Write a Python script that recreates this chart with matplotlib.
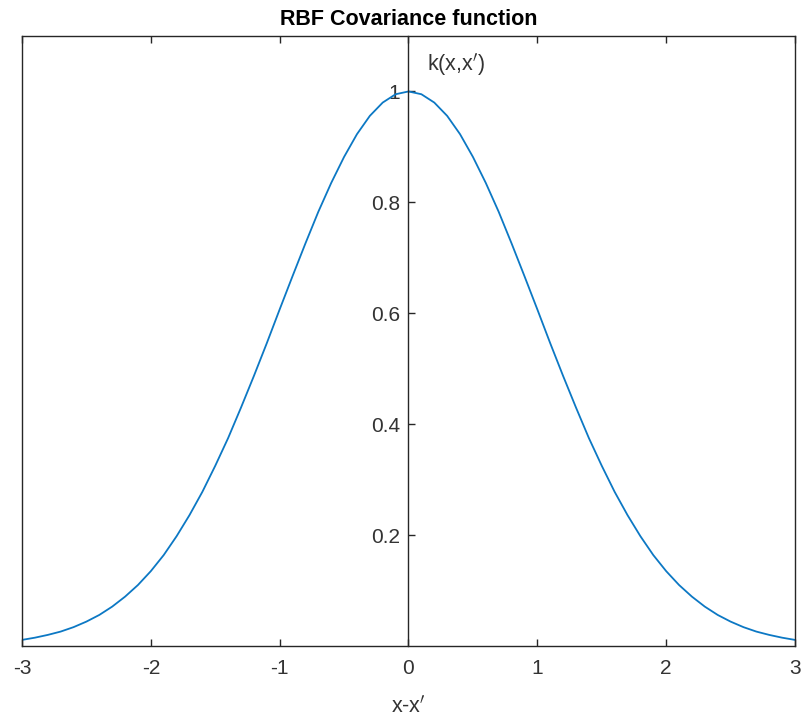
import matplotlib
matplotlib.use("Agg")
import matplotlib.pyplot as plt
import numpy as np

plt.rcParams["font.family"] = ["Liberation Sans", "DejaVu Sans"]

# ── Data ─────────────────────────────────────────────────────────────────── #
x_vals = np.linspace(-3, 3, 61)
k_vals = [
    0.011, 0.015, 0.020, 0.026, 0.034, 0.044, 0.056, 0.071, 0.089, 0.110,
    0.135, 0.164, 0.198, 0.236, 0.278, 0.325, 0.375, 0.430, 0.487, 0.546,
    0.607, 0.667, 0.726, 0.783, 0.835, 0.882, 0.923, 0.956, 0.980, 0.995,
    1.000,
    0.995, 0.980, 0.956, 0.923, 0.882, 0.835, 0.783, 0.726, 0.667, 0.607,
    0.546, 0.487, 0.430, 0.375, 0.325, 0.278, 0.236, 0.198, 0.164, 0.135,
    0.110, 0.089, 0.071, 0.056, 0.044, 0.034, 0.026, 0.020, 0.015, 0.011,
]
x_ticks = [-3, -2, -1, 0, 1, 2, 3]
y_ticks = [0.2, 0.4, 0.6, 0.8, 1.0]
y_tick_labels = ["0.2", "0.4", "0.6", "0.8", "1"]

AXIS_COL = "#262626"
TEXT_COL = "#333333"
LINE_COL = "#0C78C4"

fig = plt.figure(figsize=(8.04, 7.25), dpi=100)
ax = fig.add_axes([22 / 804, 79 / 725, 773 / 804, 610 / 725])

ax.plot(x_vals, k_vals, color=LINE_COL, linewidth=1.3)

ax.set_xlim(-3, 3)
ax.set_ylim(0, 1.1)

# y axis through the origin, box kept on all sides
ax.spines["left"].set_position(("data", 0))
for s in ax.spines.values():
    s.set_color(AXIS_COL)
    s.set_linewidth(1.0)
ax.axvline(-3, color=AXIS_COL, linewidth=1.0, clip_on=False)

ax.set_xticks(x_ticks)
ax.set_xticklabels([str(t) for t in x_ticks])
ax.set_yticks(y_ticks)
ax.set_yticklabels(y_tick_labels)
ax.tick_params(axis="x", direction="in", top=True, length=5, width=1.0,
               color=AXIS_COL, labelcolor=TEXT_COL, labelsize=15, pad=9)
ax.tick_params(axis="y", direction="in", right=False, length=5, width=1.0,
               color=AXIS_COL, labelcolor=TEXT_COL, labelsize=15, pad=6)

ax.set_xlabel("x-x$^{\\prime}$", fontsize=15.5, color=TEXT_COL, labelpad=14)
ax.text(0.14, 1.048, "k(x,x$^{\\prime}$)", fontsize=15.5, color=TEXT_COL,
        ha="left", va="center")
ax.set_title("RBF Covariance function", fontsize=15.5, fontweight="bold",
             color="black", pad=8)

fig.savefig("out.png", dpi=100)
